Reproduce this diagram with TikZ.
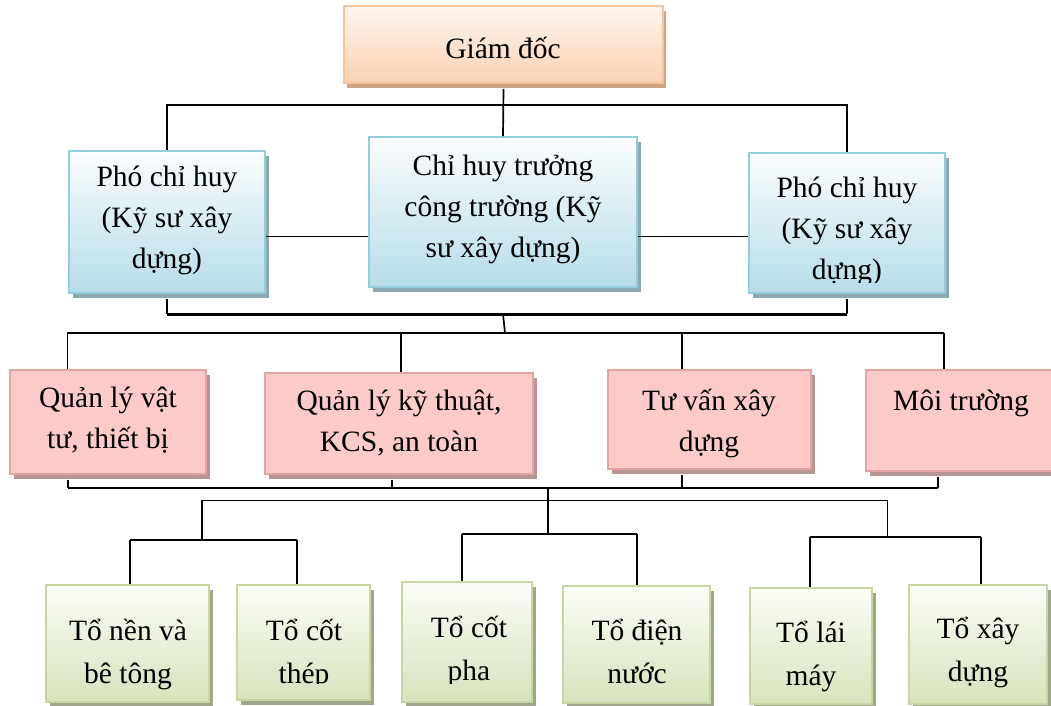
\documentclass[tikz,border=0pt]{standalone}
\usepackage{fontspec}
\setmainfont{Liberation Serif}
\usetikzlibrary{shadows}
\definecolor{gdline}{HTML}{F9C39A}
\definecolor{gdtop}{HTML}{FEF6F0}
\definecolor{gdbot}{HTML}{FAD2B2}
\definecolor{gdsh}{HTML}{CFA384}
\definecolor{blline}{HTML}{94CEDD}
\definecolor{bltop}{HTML}{FBFDFE}
\definecolor{blbot}{HTML}{B6DDE8}
\definecolor{blsh}{HTML}{8DA9B0}
\definecolor{pkline}{HTML}{E3A3A3}
\definecolor{pkfill}{HTML}{FDCACA}
\definecolor{pksh}{HTML}{B89494}
\definecolor{grline}{HTML}{C6D8A0}
\definecolor{grtop}{HTML}{FBFDF7}
\definecolor{grbot}{HTML}{D7E3BC}
\definecolor{grsh}{HTML}{A0A58D}
\begin{document}
\begin{tikzpicture}[x=1pt,y=-1pt,
  box/.style={rectangle, inner sep=0pt, line width=1.6pt},
  gdbox/.style={box, draw=gdline, top color=gdtop, bottom color=gdbot,
    general shadow={fill=gdsh, shadow xshift=3pt, shadow yshift=-5pt}},
  blbox/.style={box, draw=blline, top color=bltop, bottom color=blbot,
    general shadow={fill=blsh, shadow xshift=4pt, shadow yshift=-5pt}},
  pkbox/.style={box, draw=pkline, fill=pkfill,
    general shadow={fill=pksh, shadow xshift=4pt, shadow yshift=-5pt}},
  grbox/.style={box, draw=grline, top color=grtop, bottom color=grbot,
    general shadow={fill=grsh, shadow xshift=4pt, shadow yshift=-5pt}},
  txt/.style={align=center, inner sep=0pt, font=\fontsize{29.5}{41}\selectfont},
  gtxt/.style={align=center, inner sep=0pt, font=\fontsize{29.5}{43}\selectfont},
  conn/.style={line width=1.7pt},
  thinconn/.style={line width=1pt},
  thickconn/.style={line width=3pt},
]
\useasboundingbox (0,0) rectangle (1051,706);

% boxes
\node[gdbox, minimum width=319pt, minimum height=77pt] (gd) at (503.5,44.5) {};
\node[blbox, minimum width=196pt, minimum height=142pt] (pl) at (167,222) {};
\node[blbox, minimum width=268pt, minimum height=150pt] (cht) at (503,212) {};
\node[blbox, minimum width=196pt, minimum height=140pt] (pr) at (847,223) {};
\node[pkbox, minimum width=196pt, minimum height=104pt] (q1) at (108,422) {};
\node[pkbox, minimum width=268pt, minimum height=101pt] (q2) at (399,423.5) {};
\node[pkbox, minimum width=203pt, minimum height=99pt] (q3) at (709.5,419.5) {};
\node[pkbox, minimum width=190pt, minimum height=101pt] (q4) at (961,420.5) {};
\node[grbox, minimum width=163pt, minimum height=117pt] (g1) at (127.5,643.5) {};
\node[grbox, minimum width=133pt, minimum height=115pt] (g2) at (303.5,642.5) {};
\node[grbox, minimum width=130pt, minimum height=120pt] (g3) at (467,642) {};
\node[grbox, minimum width=147pt, minimum height=117pt] (g4) at (636.5,644.5) {};
\node[grbox, minimum width=122pt, minimum height=116pt] (g5) at (811,646) {};
\node[grbox, minimum width=138pt, minimum height=119pt] (g6) at (978,644.5) {};

% texts
\node[txt] (gdt) at (503,50.8) {\strut Giám đốc};
\node[txt] (plt) at (167,218.8) {\strut Phó chỉ huy\\\strut (Kỹ sư xây\\\strut dựng)};
\node[txt] (chtt) at (503,207.8) {\strut Chỉ huy trưởng\\\strut công trường (Kỹ\\\strut sư xây dựng)};
\begin{scope}
  \clip (745,145) rectangle (950,282);
  \node[txt] (prt) at (847,229.8) {\strut Phó chỉ huy\\\strut (Kỹ sư xây\\\strut dựng)};
\end{scope}
\node[txt] (q1t) at (108,419.3) {\strut Quản lý vật\\\strut tư, thiết bị};
\node[txt] (q2t) at (399,422.3) {\strut Quản lý kỹ thuật,\\\strut KCS, an toàn};
\node[txt] (q3t) at (709,422.3) {\strut Tư vấn xây\\\strut dựng};
\node[txt] (q4t) at (961,401.8) {\strut Môi trường};
\node[gtxt] (g1t) at (128,652.9) {\strut Tổ nền và\\\strut bê tông};
\begin{scope}
  \clip (230,580) rectangle (380,683);
  \node[gtxt] (g2t) at (304,652.9) {\strut Tổ cốt\\\strut thép};
\end{scope}
\begin{scope}
  \clip (395,575) rectangle (540,683);
  \node[gtxt] (g3t) at (469,649.9) {\strut Tổ cốt\\\strut pha};
\end{scope}
\node[gtxt] (g4t) at (637,652.9) {\strut Tổ điện\\\strut nước};
\node[gtxt] (g5t) at (811,654.9) {\strut Tổ lái\\\strut máy};
\node[gtxt] (g6t) at (978,650.9) {\strut Tổ xây\\\strut dựng};

% level 1 -> 2
\coordinate (h1) at (503,105);
\draw[conn] ([yshift=-5pt]gd.south) -- (cht.north);
\draw[conn] (pl.north) |- (h1) -| (pr.north);
\coordinate (m1) at (0,236);
\draw[thinconn] (pl.east |- m1) -- (cht.west |- m1);
\draw[thinconn] (cht.east |- m1) -- (pr.west |- m1);

% level 2 -> 3
\coordinate (b1) at (503,314);
\coordinate (b2) at (505,333);
\draw[conn] (pl.south) ++(0,5) -- (pl.south |- b1);
\draw[conn] (pr.south) ++(0,5) -- (pr.south |- b1);
\draw[thickconn] (pl.south |- b1) -- (pr.south |- b1);
\draw[conn] (b1) -- (b2);
\coordinate (c1) at (67,333);
\coordinate (c2) at (401,333);
\coordinate (c3) at (682,333);
\coordinate (c4) at (944,333);
\draw[conn] (c1) -- (c4);
\draw[thinconn] (c1) -- (c1 |- q1.north);
\draw[conn] (c2) -- (c2 |- q2.north);
\draw[conn] (c3) -- (c3 |- q3.north);
\draw[conn] (c4) -- (c4 |- q4.north);

% level 3 -> 4
\coordinate (d1) at (68,488);
\coordinate (d2) at (392,488);
\coordinate (d3) at (682,488);
\coordinate (d4) at (938,488);
\draw[conn] (d1) -- (d4);
\draw[conn] (d1 |- q1.south) ++(0,5) -- (d1);
\draw[conn] (d2 |- q2.south) ++(0,5) -- (d2);
\draw[conn] (d3 |- q3.south) ++(0,5) -- (d3);
\draw[conn] (d4 |- q4.south) ++(0,5) -- (d4);
\coordinate (e0) at (548,488);
\coordinate (fl) at (202,500);
\coordinate (fr) at (887,500);
\coordinate (mg) at (548,534);
\coordinate (lg) at (202,540);
\coordinate (rg) at (887,537);
\draw[conn] (e0) -- (mg);
\draw[thinconn] (fl) -- (fr);
\draw[conn] (fl) -- (lg);
\draw[thinconn] (fr) -- (rg);

% groups
\coordinate (l1) at (130,540);
\coordinate (l2) at (297,540);
\draw[conn] (l1) -- (l2);
\draw[conn] (l1) -- (l1 |- g1.north);
\draw[conn] (l2) -- (l2 |- g2.north);
\coordinate (m3) at (462,534);
\coordinate (m4) at (637,534);
\draw[conn] (m3) -- (m4);
\draw[conn] (m3) -- (m3 |- g3.north);
\draw[conn] (m4) -- (m4 |- g4.north);
\coordinate (r5) at (810,537);
\coordinate (r6) at (981,537);
\draw[conn] (r5) -- (r6);
\draw[conn] (r5) -- (r5 |- g5.north);
\draw[conn] (r6) -- (r6 |- g6.north);
\end{tikzpicture}
\end{document}
